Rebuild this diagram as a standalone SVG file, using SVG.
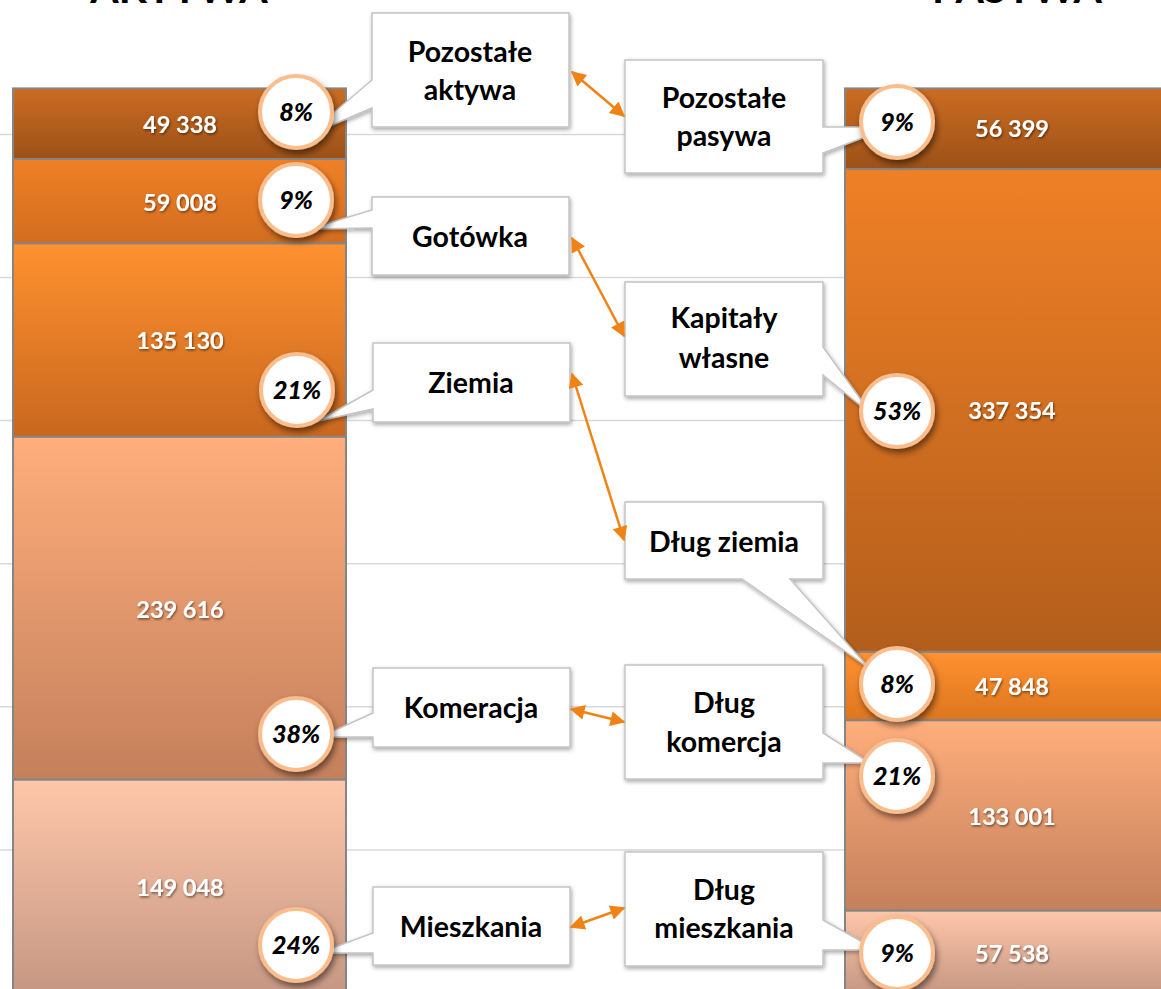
<svg xmlns="http://www.w3.org/2000/svg" width="1161" height="989" viewBox="0 0 1161 989">
<style>
.grid{stroke:#d9d9d9;stroke-width:1.5}
.seg{stroke:#858585;stroke-width:2}
.num{font-family:Lato,"Open Sans","Liberation Sans",sans-serif;font-weight:bold;font-size:23.5px;fill:#fff;text-anchor:middle;filter:url(#tsh)}
.pct{font-family:Lato,"Open Sans","Liberation Sans",sans-serif;font-weight:900;font-style:italic;font-size:25px;fill:#000;text-anchor:middle}
.lbl{font-family:Lato,"Open Sans","Liberation Sans",sans-serif;font-weight:bold;font-size:28.5px;fill:#000;text-anchor:middle}
.ttl{font-family:Lato,"Liberation Sans",sans-serif;font-weight:bold;font-size:41px;fill:#000;text-anchor:middle}
.box{fill:#fff;stroke:#c4c4c4;stroke-width:1.5;filter:url(#bsh)}
.circ{fill:#fff;stroke:#f9bd8e;stroke-width:4;filter:url(#csh)}
.arr{stroke:#ef8316;stroke-width:2.5;fill:none;marker-start:url(#ah);marker-end:url(#ah)}
</style>
<defs>
<filter id="tsh" x="-20%" y="-40%" width="140%" height="180%"><feDropShadow dx="1" dy="1.5" stdDeviation="0.8" flood-color="#000" flood-opacity="0.5"/></filter>
<filter id="bsh" x="-20%" y="-20%" width="140%" height="140%"><feDropShadow dx="1" dy="2" stdDeviation="2" flood-color="#000" flood-opacity="0.35"/></filter>
<filter id="csh" x="-30%" y="-30%" width="160%" height="170%"><feDropShadow dx="2" dy="4" stdDeviation="3" flood-color="#000" flood-opacity="0.5"/></filter>
<marker id="ah" viewBox="0 0 10 10" refX="9" refY="5" markerWidth="7" markerHeight="6" orient="auto-start-reverse" markerUnits="strokeWidth"><path d="M0,0 L10,5 L0,10 z" fill="#ef8316"/></marker>
<linearGradient id="g1" x1="0" y1="0" x2="0" y2="1"><stop offset="0" stop-color="#cb6c22"/><stop offset="1" stop-color="#9c5118"/></linearGradient>
<linearGradient id="g2a" x1="0" y1="0" x2="0" y2="1"><stop offset="0" stop-color="#ef8026"/><stop offset="1" stop-color="#d26d20"/></linearGradient>
<linearGradient id="g2b" x1="0" y1="0" x2="0" y2="1"><stop offset="0" stop-color="#ef8026"/><stop offset="1" stop-color="#b35e1c"/></linearGradient>
<linearGradient id="g3a" x1="0" y1="0" x2="0" y2="1"><stop offset="0" stop-color="#ff9130"/><stop offset="1" stop-color="#c8671e"/></linearGradient>
<linearGradient id="g3b" x1="0" y1="0" x2="0" y2="1"><stop offset="0" stop-color="#ff9130"/><stop offset="1" stop-color="#dd761f"/></linearGradient>
<linearGradient id="g4" x1="0" y1="0" x2="0" y2="1"><stop offset="0" stop-color="#ffae7c"/><stop offset="1" stop-color="#c4805c"/></linearGradient>
<linearGradient id="g5" x1="0" y1="0" x2="0" y2="1"><stop offset="0" stop-color="#fec7aa"/><stop offset="1" stop-color="#c69783"/></linearGradient>
</defs>
<rect width="1161" height="989" fill="#fff"/>
<g id="gridlines">
<line class="grid" x1="0" y1="134.4" x2="1161" y2="134.4"/>
<line class="grid" x1="0" y1="277.5" x2="1161" y2="277.5"/>
<line class="grid" x1="0" y1="420.6" x2="1161" y2="420.6"/>
<line class="grid" x1="0" y1="563.7" x2="1161" y2="563.7"/>
<line class="grid" x1="0" y1="706.8" x2="1161" y2="706.8"/>
<line class="grid" x1="0" y1="849.9" x2="1161" y2="849.9"/>
</g>
<text class="ttl" x="179" y="3">AKTYWA</text>
<text class="ttl" x="1017" y="3">PASYWA</text>
<g id="bar-aktywa">
<rect class="seg" x="13" y="88.4" width="333" height="70.6" fill="url(#g1)"/>
<rect class="seg" x="13" y="159" width="333" height="84.4" fill="url(#g2a)"/>
<rect class="seg" x="13" y="243.4" width="333" height="193.4" fill="url(#g3a)"/>
<rect class="seg" x="13" y="436.8" width="333" height="342.9" fill="url(#g4)"/>
<rect class="seg" x="13" y="779.7" width="333" height="213.3" fill="url(#g5)"/>
<text class="num" x="180" y="133">49 338</text>
<text class="num" x="180" y="211">59 008</text>
<text class="num" x="180" y="349">135 130</text>
<text class="num" x="180" y="618">239 616</text>
<text class="num" x="180" y="896">149 048</text>
</g>
<g id="bar-pasywa">
<rect class="seg" x="845" y="88.4" width="340" height="80.7" fill="url(#g1)"/>
<rect class="seg" x="845" y="169.1" width="340" height="482.8" fill="url(#g2b)"/>
<rect class="seg" x="845" y="651.9" width="340" height="68.4" fill="url(#g3b)"/>
<rect class="seg" x="845" y="720.3" width="340" height="190.4" fill="url(#g4)"/>
<rect class="seg" x="845" y="910.7" width="340" height="82.3" fill="url(#g5)"/>
<text class="num" x="1012" y="137">56 399</text>
<text class="num" x="1012" y="419">337 354</text>
<text class="num" x="1012" y="695">47 848</text>
<text class="num" x="1012" y="825">133 001</text>
<text class="num" x="1012" y="962">57 538</text>
</g>
<g id="node-pozostale-aktywa">
<path class="box" d="M372,13 H569 V127 H372 V108 L306,136 L372,80 Z"/>
<circle class="circ" cx="296" cy="112" r="36"/>
<text class="pct" x="296" y="121">8%</text>
<text class="lbl" x="470" y="62">Pozostałe</text>
<text class="lbl" x="470" y="100">aktywa</text>
</g>
<g id="node-gotowka">
<path class="box" d="M372,197 H569 V275 H372 V228 L309,229 L372,210 Z"/>
<circle class="circ" cx="296" cy="200" r="36"/>
<text class="pct" x="296" y="209">9%</text>
<text class="lbl" x="470" y="247">Gotówka</text>
</g>
<g id="node-ziemia">
<path class="box" d="M373,343 H570 V422 H373 V409 L318,421 L373,390 Z"/>
<circle class="circ" cx="297" cy="390" r="36"/>
<text class="pct" x="297" y="399">21%</text>
<text class="lbl" x="471" y="393">Ziemia</text>
</g>
<g id="node-komeracja">
<path class="box" d="M373,668 H570 V747 H373 V737 L320,737 L373,713 Z"/>
<circle class="circ" cx="296" cy="734" r="36"/>
<text class="pct" x="296" y="743">38%</text>
<text class="lbl" x="471" y="718">Komeracja</text>
</g>
<g id="node-mieszkania">
<path class="box" d="M373,887 H570 V965 H373 V953 L319,953 L373,933 Z"/>
<circle class="circ" cx="296" cy="945" r="36"/>
<text class="pct" x="296" y="954">24%</text>
<text class="lbl" x="471" y="937">Mieszkania</text>
</g>
<g id="node-pozostale-pasywa">
<path class="box" d="M625,60 H823 V127 L891,127 L823,153 V173 H625 Z"/>
<circle class="circ" cx="897" cy="122" r="36"/>
<text class="pct" x="897" y="131">9%</text>
<text class="lbl" x="724" y="108">Pozostałe</text>
<text class="lbl" x="724" y="146">pasywa</text>
</g>
<g id="node-kapitaly">
<path class="box" d="M625,282 H823 V347 L872,415 L823,375 V396 H625 Z"/>
<circle class="circ" cx="897" cy="411" r="36"/>
<text class="pct" x="897" y="420">53%</text>
<text class="lbl" x="724" y="328">Kapitały</text>
<text class="lbl" x="724" y="368">własne</text>
</g>
<g id="node-dlug-ziemia">
<path class="box" d="M625,502 H823 V579 H790 L869,668 L742,579 H625 Z"/>
<circle class="circ" cx="897" cy="684" r="36"/>
<text class="pct" x="897" y="693">8%</text>
<text class="lbl" x="724" y="552">Dług ziemia</text>
</g>
<g id="node-dlug-komercja">
<path class="box" d="M625,665 H823 V733 L870,763 L823,763 V779 H625 Z"/>
<circle class="circ" cx="897" cy="776" r="36"/>
<text class="pct" x="897" y="785">21%</text>
<text class="lbl" x="724" y="713">Dług</text>
<text class="lbl" x="724" y="752">komercja</text>
</g>
<g id="node-dlug-mieszkania">
<path class="box" d="M625,852 H823 V920 L877,950 L823,950 V966 H625 Z"/>
<circle class="circ" cx="897" cy="953" r="36"/>
<text class="pct" x="897" y="962">9%</text>
<text class="lbl" x="724" y="900">Dług</text>
<text class="lbl" x="724" y="938">mieszkania</text>
</g>
<g id="connectors">
<line class="arr" x1="572" y1="72" x2="624" y2="116"/>
<line class="arr" x1="572" y1="238" x2="624" y2="336"/>
<line class="arr" x1="572" y1="374" x2="624" y2="540"/>
<line class="arr" x1="571" y1="709" x2="624" y2="722"/>
<line class="arr" x1="571" y1="927" x2="624" y2="908"/>
</g>
</svg>
